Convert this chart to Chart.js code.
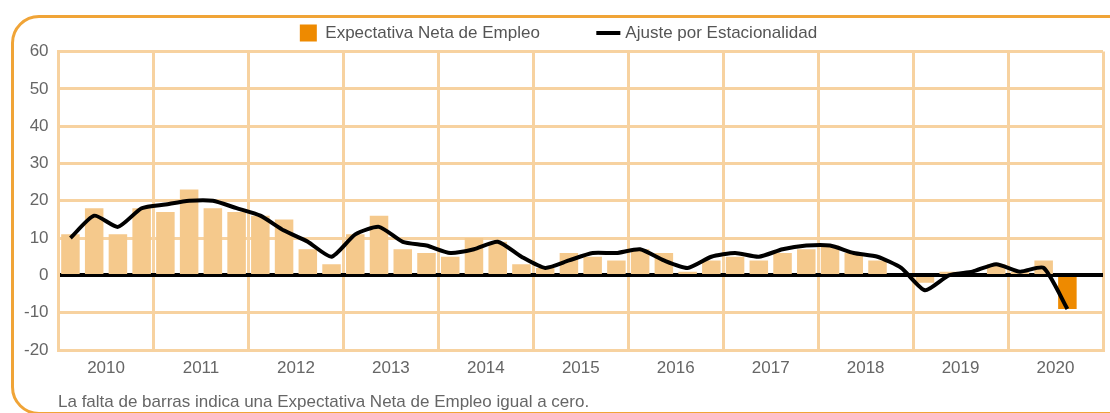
<!DOCTYPE html>
<html lang="es">
<head>
<meta charset="utf-8">
<title>Expectativa Neta de Empleo</title>
<script src="https://cdn.jsdelivr.net/npm/chart.js@4.4.1/dist/chart.umd.min.js"></script>
<style>
  html, body {
    margin: 0;
    padding: 0;
    width: 1110px;
    height: 413px;
    overflow: hidden;
    background: #fff;
    position: relative;
    font-family: "Liberation Sans", Arial, sans-serif;
  }
  .frame {
    position: absolute;
    left: 11px;
    top: 15px;
    width: 1130px;
    height: 400px;
    box-sizing: border-box;
    border: 3px solid #f0a437;
    border-radius: 28px;
  }
  .chart-box {
    position: absolute;
    left: 0;
    top: -40px;
    width: 1110px;
    height: 433px;
  }
  .note {
    position: absolute;
    left: 58px;
    top: 392px;
    font-size: 17px;
    line-height: 20px;
    color: #666;
  }
</style>
</head>
<body>
<div class="frame"></div>
<div class="chart-box"><canvas id="empleoChart"></canvas></div>
<div class="note">La falta de barras indica una Expectativa Neta de Empleo igual a cero.</div>

<script>
const years = ["2010", "2011", "2012", "2013", "2014", "2015", "2016", "2017", "2018", "2019", "2020"];
const quarters = ["T1", "T2", "T3", "T4"];

// Expectativa Neta de Empleo (barras), un valor por trimestre
const expectativa = [
  11, 18, 11, 18,
  17, 23, 18, 17,
  16, 15, 7, 3,
  11, 16, 7, 6,
  5, 10, 9, 3,
  2, 6, 5, 4,
  7, 6, 1, 4,
  5, 4, 6, 7,
  8, 6, 4, 0,
  -2, 1, 0, 3,
  1, 4, -9, null,
];

// Ajuste por Estacionalidad (linea)
const ajuste = [
  10, 16, 13, 18,
  19, 20, 20, 18,
  16, 12, 9, 5,
  11, 13, 9, 8,
  6, 7, 9, 5,
  2, 4, 6, 6,
  7, 4, 2, 5,
  6, 5, 7, 8,
  8, 6, 5, 2,
  -4, 0, 1, 3,
  1, 2, -9, null,
];

const yTicks = [-20, -10, 0, 10, 20, 30, 40, 50, 60];

const labels = years.flatMap((y) => quarters.map((q) => y + " " + q));
const yearCenters = years.map((y, i) => i * quarters.length + (quarters.length - 1) / 2);

const gridColor = "#f7d2a0";
const textColor = "#666";
const barLight = "#f5c98c";
const barDark = "#ee8a00";

let lastBar = 0;
expectativa.forEach((v, i) => {
  if (v !== null) lastBar = i;
});
const barColors = expectativa.map((v, i) => (i === lastBar ? barDark : barLight));

const tickFont = { family: "'Liberation Sans', Arial, sans-serif", size: 17 };

const ctx = document.getElementById("empleoChart");

const myChart = new Chart(ctx, {
  data: {
    labels: labels,
    datasets: [
      {
        type: "line",
        label: "Ajuste por Estacionalidad",
        data: ajuste,
        borderColor: "#000",
        backgroundColor: "#000",
        borderWidth: 4,
        pointRadius: 0,
        pointStyle: "line",
        tension: 0.2,
        order: 1,
      },
      {
        type: "bar",
        label: "Expectativa Neta de Empleo",
        data: expectativa,
        backgroundColor: barColors,
        borderWidth: 0,
        barPercentage: 0.78,
        categoryPercentage: 1,
        pointStyle: "rect",
        order: 2,
      },
    ],
  },
  options: {
    responsive: true,
    maintainAspectRatio: false,
    animation: false,
    layout: {
      padding: { top: 4.5, left: 14, right: 7, bottom: 6.6 },
    },
    plugins: {
      tooltip: { enabled: false },
      legend: {
        position: "top",
        reverse: true,
        labels: {
          usePointStyle: true,
          boxHeight: 17,
          padding: 60,
          color: "#555",
          font: tickFont,
          generateLabels(chart) {
            const items = Chart.defaults.plugins.legend.labels.generateLabels(chart);
            items.forEach((item) => {
              if (item.pointStyle === "rect") {
                item.fillStyle = barDark;
                item.strokeStyle = barDark;
              }
            });
            return items;
          },
        },
      },
    },
    scales: {
      x: {
        type: "category",
        offset: true,
        ticks: { display: false, autoSkip: false },
        grid: {
          offset: true,
          drawTicks: false,
          lineWidth: 3,
          color: (c) => (c.index === undefined || c.index % quarters.length === 0 ? gridColor : "rgba(0,0,0,0)"),
        },
        border: { color: gridColor, width: 3 },
      },
      x2: {
        type: "linear",
        position: "bottom",
        min: -0.5,
        max: labels.length - 0.5,
        afterBuildTicks: (scale) => {
          scale.ticks = yearCenters.map((v) => ({ value: v }));
        },
        ticks: {
          color: textColor,
          font: tickFont,
          padding: 8,
          autoSkip: false,
          maxRotation: 0,
          callback: (v, i) => years[i],
        },
        grid: { display: false, drawTicks: false },
        border: { display: false },
      },
      y: {
        min: yTicks[0],
        max: yTicks[yTicks.length - 1],
        ticks: {
          stepSize: 10,
          color: textColor,
          font: tickFont,
          padding: 10,
        },
        grid: { color: gridColor, lineWidth: 3, drawTicks: false },
        border: { color: gridColor, width: 3 },
      },
      y0: {
        position: "left",
        min: yTicks[0],
        max: yTicks[yTicks.length - 1],
        z: 1,
        ticks: { display: false, stepSize: 10 },
        grid: {
          drawTicks: false,
          lineWidth: 4,
          color: (c) => (c.tick && c.tick.value === 0 ? "#000" : "rgba(0,0,0,0)"),
        },
        border: { display: false },
      },
    },
  },
});
</script>
</body>
</html>
